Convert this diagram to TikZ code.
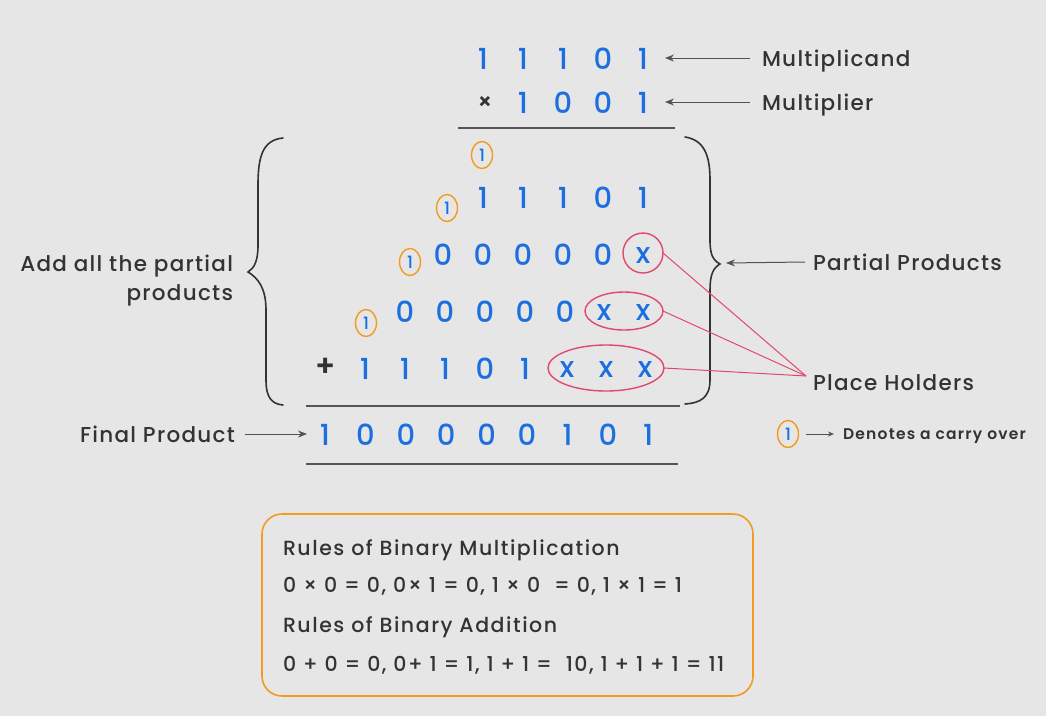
\documentclass[tikz,border=0pt]{standalone}
\usepackage{fontspec}
\setmainfont{Poppins}[UprightFont={* Medium},BoldFont={* SemiBold},LetterSpace=6]
\newfontfamily\boxfont{Poppins}[UprightFont={* Medium},LetterSpace=7.5]
\newfontfamily\legfont{Poppins}[UprightFont={* SemiBold},LetterSpace=8]
\usetikzlibrary{arrows.meta,shapes.geometric,calc}
\definecolor{bg}{HTML}{E6E6E6}
\definecolor{dig}{HTML}{1C6FE0}
\definecolor{carry}{HTML}{F29B1F}
\definecolor{ph}{HTML}{E2486B}
\definecolor{ink}{HTML}{333333}
\definecolor{rule}{HTML}{555555}
\begin{document}
\begin{tikzpicture}[x=1pt,y=-1pt,
  every node/.style={inner sep=0pt,outer sep=0pt},
  d/.style={text=dig,font=\fontsize{29}{29}\selectfont,anchor=base},
  cy/.style={draw=carry,line width=1.4pt,ellipse,minimum width=21pt,minimum height=27pt,text=dig,font=\fontsize{17}{17}\selectfont},
  lbl/.style={text=ink,font=\fontsize{21.5}{21.5}\selectfont,anchor=base west},
  rl/.style={text=ink,font=\boxfont\fontsize{20.5}{20.5}\selectfont,anchor=base west},
  arr/.style={draw=ink!85,line width=1pt,-{Stealth[length=9pt,width=7pt]}},
  hold/.style={draw=ph,line width=1.4pt,ellipse},
  phl/.style={draw=ph,line width=1pt},
  br/.style={draw=ink,line width=1.6pt,line cap=round},
  hl/.style={draw=rule,line width=2.5pt}]
\fill[bg] (0,0) rectangle (1046,716);
\useasboundingbox (0,0) rectangle (1046,716);
% multiplicand
\foreach \v/\k in {1/4,1/3,1/2,0/1,1/0}{\node[d] (a\k) at ({643-40*\k},69) {\v};}
\node[text=ink,font=\bfseries\fontsize{22}{22}\selectfont] (times) at (485,103) {×};
\foreach \v/\k in {1/3,0/2,0/1,1/0}{\node[d] (b\k) at ({643-40*\k},113) {\v};}
\draw[hl] (458,128) -- (675,128);
% carries
\node[cy] (c1) at (482,155) {1};
\node[cy] (c2) at (447,208) {1};
\node[cy] (c3) at (410,262) {1};
\node[cy] (c4) at (366,323) {1};
% partial products
\foreach \v/\k in {1/4,1/3,1/2,0/1,1/0}{\node[d] (p\k) at ({643-40*\k},208) {\v};}
\foreach \k in {5,4,3,2,1}{\node[d] (q\k) at ({643-40*\k},265) {0};}
\node[d] (qx0) at (643,263) {x};
\foreach \k in {6,5,4,3,2}{\node[d] (r\k) at ({645-40*\k},322) {0};}
\foreach \k in {1,0}{\node[d] (rx\k) at ({643-39*\k},320) {x};}
\node[text=ink,font=\bfseries\fontsize{30}{30}\selectfont] (plus) at (326,367) {+};
\foreach \v/\k in {1/7,1/6,1/5,0/4,1/3}{\node[d] (s\k) at ({645-40*\k},379) {\v};}
\foreach \k in {2,1,0}{\node[d] (sx\k) at ({645-39*\k},377) {x};}
% holder ellipses
\node[hold,minimum width=40pt,minimum height=40pt] (e2) at (643,253) {};
\node[hold,minimum width=78pt,minimum height=38pt] (e3) at (624,311) {};
\node[hold,minimum width=116pt,minimum height=46pt] (e4) at (606,368) {};
% lines
\draw[hl] (306,406) -- (680,406);
\foreach \v/\k in {1/0,0/1,0/2,0/3,0/4,0/5,1/6,0/7,1/8}{\node[d] (f\k) at ({325+40.4*\k},445) {\v};}
\draw[hl] (306,464) -- (678,464);
% braces
\draw[br] (283,138) .. controls (262,140) and (258,158) .. (258,185) -- (258,245)
  .. controls (258,262) and (254,268) .. (248,272)
  .. controls (258,278) and (266,288) .. (266,310) -- (266,380)
  .. controls (266,398) and (272,404) .. (283,405);
\draw[br] (685,137) .. controls (704,140) and (710,155) .. (710,180) -- (710,240)
  .. controls (710,255) and (713,260) .. (720,264)
  .. controls (713,268) and (710,275) .. (710,290) -- (710,380)
  .. controls (710,398) and (700,403) .. (685,404);
\coordinate (btip) at (726,263);
% labels and arrows
\node[lbl] (mcand) at (762,66) {Multiplicand};
\node[lbl] (mplier) at (762,110) {Multiplier};
\coordinate (a0r) at ($(a0.base)+(22,-11)$);
\coordinate (b0r) at ($(b0.base)+(22,-11)$);
\draw[arr] (mcand.west |- a0r) ++(-12,0) coordinate (ma) -- (a0r);
\draw[arr] (mplier.west |- b0r) ++(-12,0) coordinate (mb) -- (b0r);
\node[lbl] (pp) at (813,270) {Partial Products};
\coordinate (ppa) at (805,262);
\draw[arr] (ppa) -- (btip);
\node[lbl] (hld) at (813,390) {Place Holders};
\coordinate (phc) at (806,376);
\draw[phl] (e2.east) -- (phc);
\draw[phl] (e3.east) -- (phc);
\draw[phl] (e4.east) -- (phc);
\node[lbl,anchor=base east] (add1) at (233,271) {Add all the partial};
\node[lbl,anchor=base east] (add2) at (233,300) {products};
\node[lbl] (fp) at (80,442) {Final Product};
\coordinate (fpa) at (245,434);
\coordinate (f0l) at ($(f0.base)+(-18,-11)$);
\draw[arr] (fpa) -- (f0l);
% legend
\node[cy] (lc) at (788,434) {1};
\node[text=ink,font=\legfont\fontsize{15.5}{15.5}\selectfont,anchor=base west] (leg) at (843,439) {Denotes a carry over};
\coordinate (lca) at (806,434);
\coordinate (lcb) at (834,434);
\draw[draw=ink!85,line width=1pt,-{Stealth[length=6pt,width=5pt]}] (lca) -- (lcb);
% rules box
\node[draw=carry,line width=1.6pt,rounded corners=20pt,minimum width=491pt,minimum height=182pt] (box) at (507.5,605) {};
\node[rl] (r1) at (283,555) {Rules of Binary Multiplication};
\node[rl] (r2) at (283,592) {0 × 0 = 0, 0× 1 = 0, 1 × 0\ \ = 0, 1 × 1 = 1};
\node[rl] (r3) at (283,632) {Rules of Binary Addition};
\node[rl] (r4) at (283,671) {0 + 0 = 0, 0+ 1 = 1, 1 + 1 =\ \ 10, 1 + 1 + 1 = 11};
\end{tikzpicture}
\end{document}
